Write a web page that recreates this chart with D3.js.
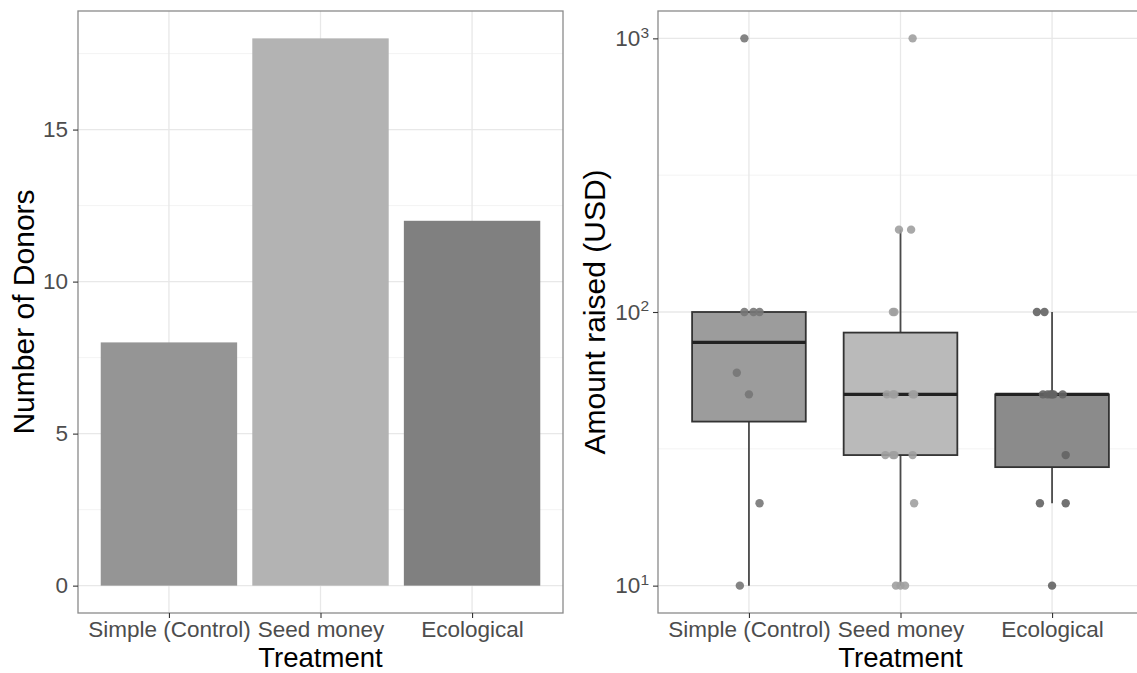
<!DOCTYPE html>
<html>
<head>
<meta charset="utf-8">
<script src="https://cdn.jsdelivr.net/npm/d3@7"></script>
<style>
  body { margin: 0; background: #fff; }
  svg { display: block; font-family: "Liberation Sans", Arial, Helvetica, sans-serif; }
</style>
</head>
<body>
<div id="chart"></div>
<script>
const treatments = ["Simple (Control)", "Seed money", "Ecological"];
const donorCounts = [8, 18, 12];

// amounts per donor (USD)
const simpleAmounts = [1000, 100, 100, 100, 60, 50, 20, 10];
const seedAmounts = [1000, 200, 200, 100, 100, 50, 50, 50, 50, 50, 30, 30, 30, 30, 20, 10, 10, 10];
const ecoAmounts = [100, 100, 50, 50, 50, 50, 50, 50, 30, 20, 20, 10];

// horizontal jitter of each point, as a fraction of one category step
const simpleJitter = [-0.03, -0.03, 0.03, 0.07, -0.08, 0.0, 0.07, -0.06];
const seedJitter = [0.08, -0.01, 0.07, -0.05, -0.04, -0.09, -0.05, -0.04, 0.08, 0.09, -0.1, -0.05, -0.04, 0.08, 0.09, -0.03, 0.0, 0.03];
const ecoJitter = [-0.1, -0.05, -0.06, -0.03, -0.01, 0.0, 0.07, 0.01, 0.09, -0.08, 0.09, 0.0];

const yTicksLeft = [0, 5, 10, 15];
const yMinorLeft = [2.5, 7.5, 12.5, 17.5];
const yTicksRight = [10, 100, 1000];
const yMinorRight = [Math.pow(10, 1.5), Math.pow(10, 2.5)];

const BAR_COLORS = ["#959595", "#b3b3b3", "#808080"];
const BOX_COLORS = ["#9c9c9c", "#bababa", "#8b8b8b"];
const POINT_COLORS = ["#777", "#a0a0a0", "#636363"];

const width = 1137;
const height = 673;
const panelTop = 11;
const panelBottom = 613;
const left = { x0: 78, x1: 563 };
const right = { x0: 658, x1: 1143 };

const svg = d3.select("#chart").append("svg")
  .attr("width", width)
  .attr("height", height);

svg.append("rect").attr("width", width).attr("height", height).attr("fill", "#fff");

function drawGrid(g, x, y, major, minor, x0, x1) {
  g.selectAll("line.minor").data(minor).enter().append("line")
    .attr("class", "minor")
    .attr("x1", x0).attr("x2", x1)
    .attr("y1", (d) => y(d)).attr("y2", (d) => y(d))
    .attr("stroke", "#f0f0f0").attr("stroke-width", 0.8);
  g.selectAll("line.major").data(major).enter().append("line")
    .attr("class", "major")
    .attr("x1", x0).attr("x2", x1)
    .attr("y1", (d) => y(d)).attr("y2", (d) => y(d))
    .attr("stroke", "#e8e8e8").attr("stroke-width", 1.3);
  g.selectAll("line.vmajor").data(treatments).enter().append("line")
    .attr("class", "vmajor")
    .attr("x1", (d) => x(d)).attr("x2", (d) => x(d))
    .attr("y1", panelTop).attr("y2", panelBottom)
    .attr("stroke", "#e8e8e8").attr("stroke-width", 1.3);
}

function styleAxis(ax) {
  ax.select(".domain").remove();
  ax.selectAll(".tick line").attr("stroke", "#333").attr("stroke-width", 1.1);
  ax.selectAll(".tick text")
    .attr("fill", "#4d4d4d")
    .style("font-size", "22.5px");
}

function drawBorder(x0, x1) {
  svg.append("rect")
    .attr("x", x0).attr("y", panelTop)
    .attr("width", x1 - x0).attr("height", panelBottom - panelTop)
    .attr("fill", "none")
    .attr("stroke", "#8a8a8a")
    .attr("stroke-width", 1.3);
}

function xTitle(cx, text) {
  svg.append("text")
    .attr("x", cx).attr("y", 667)
    .attr("text-anchor", "middle")
    .style("font-size", "27.5px")
    .attr("fill", "#000")
    .text(text);
}

function yTitle(bx, text) {
  svg.append("text")
    .attr("transform", `translate(${bx}, ${(panelTop + panelBottom) / 2}) rotate(-90)`)
    .attr("text-anchor", "middle")
    .style("font-size", "30px")
    .attr("fill", "#000")
    .text(text);
}

// ---- left panel: bar chart ----
const xL = d3.scalePoint().domain(treatments).range([left.x0, left.x1]).padding(0.6);
const yL = d3.scaleLinear().domain([-0.9, 18.9]).range([panelBottom, panelTop]);

const gL = svg.append("g");
drawGrid(gL, xL, yL, yTicksLeft, yMinorLeft, left.x0, left.x1);

const barW = xL.step() * 0.9;
gL.selectAll("rect.bar").data(treatments).enter().append("rect")
  .attr("class", "bar")
  .attr("x", (d) => xL(d) - barW / 2)
  .attr("width", barW)
  .attr("y", (d, i) => yL(donorCounts[i]))
  .attr("height", (d, i) => yL(0) - yL(donorCounts[i]))
  .attr("fill", (d, i) => BAR_COLORS[i]);

drawBorder(left.x0, left.x1);

const axL = svg.append("g")
  .attr("transform", `translate(${left.x0},0)`)
  .call(d3.axisLeft(yL).tickValues(yTicksLeft).tickSize(5).tickPadding(5));
styleAxis(axL);

const axLB = svg.append("g")
  .attr("transform", `translate(0,${panelBottom})`)
  .call(d3.axisBottom(xL).tickSize(5).tickPadding(3));
styleAxis(axLB);

xTitle((left.x0 + left.x1) / 2, "Treatment");
yTitle(34, "Number of Donors");

// ---- right panel: boxplots on log scale ----
const xR = d3.scalePoint().domain(treatments).range([right.x0, right.x1]).padding(0.6);
const yR = d3.scaleLog().domain([Math.pow(10, 0.9), Math.pow(10, 3.1)]).range([panelBottom, panelTop]);

const gR = svg.append("g");
drawGrid(gR, xR, yR, yTicksRight, yMinorRight, right.x0, right.x1);

const groups = [
  { name: treatments[0], values: simpleAmounts, jitter: simpleJitter },
  { name: treatments[1], values: seedAmounts, jitter: seedJitter },
  { name: treatments[2], values: ecoAmounts, jitter: ecoJitter },
];

function boxStats(values) {
  const logs = values.map((v) => Math.log10(v)).sort(d3.ascending);
  const q1 = d3.quantile(logs, 0.25);
  const med = d3.quantile(logs, 0.5);
  const q3 = d3.quantile(logs, 0.75);
  const iqr = q3 - q1;
  const lo = d3.min(logs.filter((v) => v >= q1 - 1.5 * iqr));
  const hi = d3.max(logs.filter((v) => v <= q3 + 1.5 * iqr));
  const p = (v) => Math.pow(10, v);
  return { q1: p(q1), med: p(med), q3: p(q3), lo: p(lo), hi: p(hi) };
}

const boxW = xR.step() * 0.75;
groups.forEach((grp, i) => {
  const s = boxStats(grp.values);
  const cx = xR(grp.name);
  const bg = gR.append("g");
  bg.append("line")
    .attr("x1", cx).attr("x2", cx)
    .attr("y1", yR(s.q3)).attr("y2", yR(s.hi))
    .attr("stroke", "#4a4a4a").attr("stroke-width", 1.8);
  bg.append("line")
    .attr("x1", cx).attr("x2", cx)
    .attr("y1", yR(s.q1)).attr("y2", yR(s.lo))
    .attr("stroke", "#4a4a4a").attr("stroke-width", 1.8);
  bg.append("rect")
    .attr("x", cx - boxW / 2).attr("width", boxW)
    .attr("y", yR(s.q3)).attr("height", yR(s.q1) - yR(s.q3))
    .attr("fill", BOX_COLORS[i])
    .attr("stroke", "#333").attr("stroke-width", 1.8);
  bg.append("line")
    .attr("x1", cx - boxW / 2).attr("x2", cx + boxW / 2)
    .attr("y1", yR(s.med)).attr("y2", yR(s.med))
    .attr("stroke", "#222").attr("stroke-width", 3.4);
});

groups.forEach((grp, i) => {
  gR.selectAll(null).data(grp.values).enter().append("circle")
    .attr("cx", (d, j) => xR(grp.name) + grp.jitter[j] * xR.step())
    .attr("cy", (d) => yR(d))
    .attr("r", 4.2)
    .attr("fill", POINT_COLORS[i])
    .attr("fill-opacity", 0.9);
});

drawBorder(right.x0, right.x1);

const axR = svg.append("g")
  .attr("transform", `translate(${right.x0},0)`)
  .call(d3.axisLeft(yR).tickValues(yTicksRight).tickSize(5).tickPadding(4).tickFormat(() => ""));
styleAxis(axR);
axR.selectAll(".tick text").each(function (d) {
  const t = d3.select(this);
  t.text(null);
  t.append("tspan").text("10");
  t.append("tspan")
    .attr("dy", "-0.55em")
    .style("font-size", "15.5px")
    .text(Math.round(Math.log10(d)));
});

const axRB = svg.append("g")
  .attr("transform", `translate(0,${panelBottom})`)
  .call(d3.axisBottom(xR).tickSize(5).tickPadding(3));
styleAxis(axRB);

xTitle((right.x0 + right.x1) / 2, "Treatment");
yTitle(605, "Amount raised (USD)");
</script>
</body>
</html>
